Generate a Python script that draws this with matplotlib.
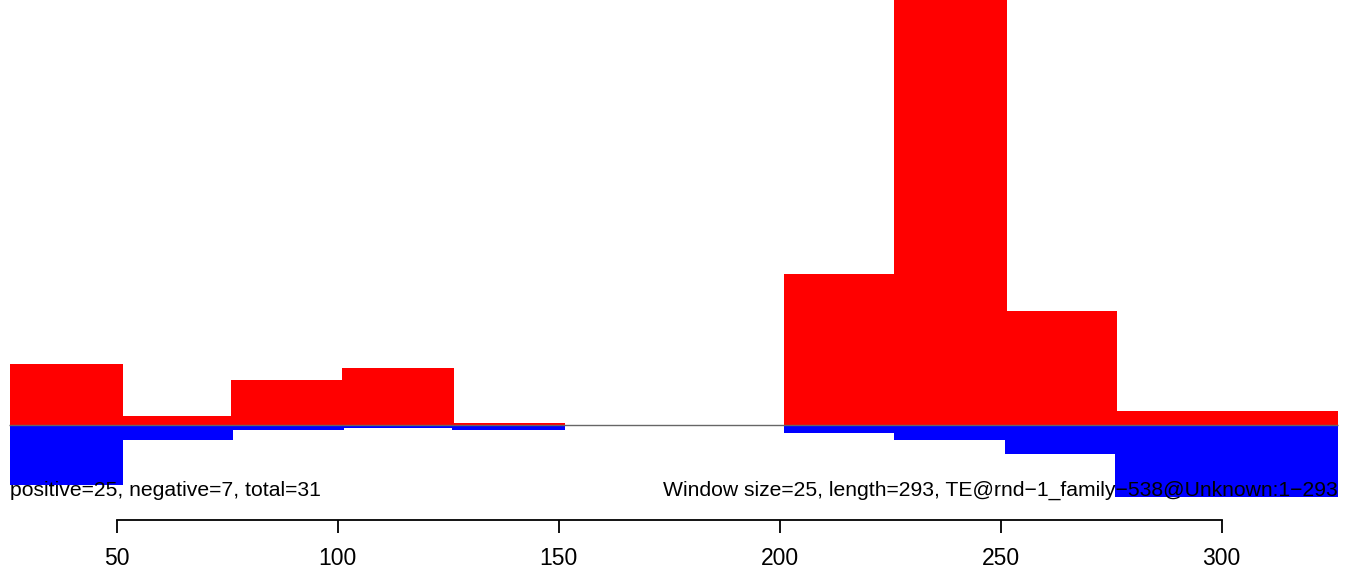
import matplotlib
matplotlib.use("Agg")
import matplotlib.pyplot as plt
import numpy as np

# window starts (window size 25)
starts = [26, 51, 76, 101, 126, 151, 176, 201, 226, 251, 276, 301]
win = 25
pos_vals = [6.1, 0.9, 4.5, 5.7, 0.23, 0, 0, 15.1, 60.0, 11.4, 1.4, 1.4]
neg_vals = [6.0, 1.5, 0.5, 0.27, 0.5, 0, 0, 0.77, 1.5, 2.87, 7.17, 7.17]
xticks = [50, 100, 150, 200, 250, 300]
left_label = "positive=25, negative=7, total=31"
right_label = "Window size=25, length=293, TE@rnd\u22121_family\u2212538@Unknown:1\u2212293"

plt.rcParams['font.family'] = ['Liberation Sans', 'DejaVu Sans']

fig = plt.figure(figsize=(13.5, 5.68), dpi=100)
# axes spans pixel rows 0..520 of the 568 px figure
ax = fig.add_axes([0, 48 / 568, 1, 520 / 568])

# pixel mapping: x=50 -> 116.5 px, 4.42 px per unit
ax.set_xlim(50 - 116.5 / 4.42, 50 + (1350 - 116.5) / 4.42)
# y: baseline at 425 px from top, 10 px per unit
ax.set_ylim(-(520 - 425) / 10, 425 / 10)

ax.bar(starts, pos_vals, width=win + 0.4, align='edge', color='#ff0000', linewidth=0)
ax.bar(starts, [-v for v in neg_vals], width=win + 0.4, align='edge', color='#0000ff', linewidth=0)
ax.hlines(0, starts[0] - 0.3, starts[-1] + win + 0.3, color='#666666', lw=1, zorder=3)

ax.text(starts[0], -6.5, left_label, ha='left', va='center', fontsize=15.2, zorder=4)
ax.text(starts[-1] + win + 0.4, -6.5, right_label, ha='right', va='center', fontsize=15.2, zorder=4)

for s in ['top', 'left', 'right']:
    ax.spines[s].set_visible(False)
ax.spines['bottom'].set_bounds(xticks[0], xticks[-1])
ax.spines['bottom'].set_linewidth(1.3)
ax.set_yticks([])
ax.set_xticks(xticks)
ax.set_xticklabels([str(t) for t in xticks], fontsize=16.5)
ax.tick_params(axis='x', length=9.5, width=1.3, pad=10)
ax.patch.set_visible(False)

fig.savefig("out.png", dpi=100)
